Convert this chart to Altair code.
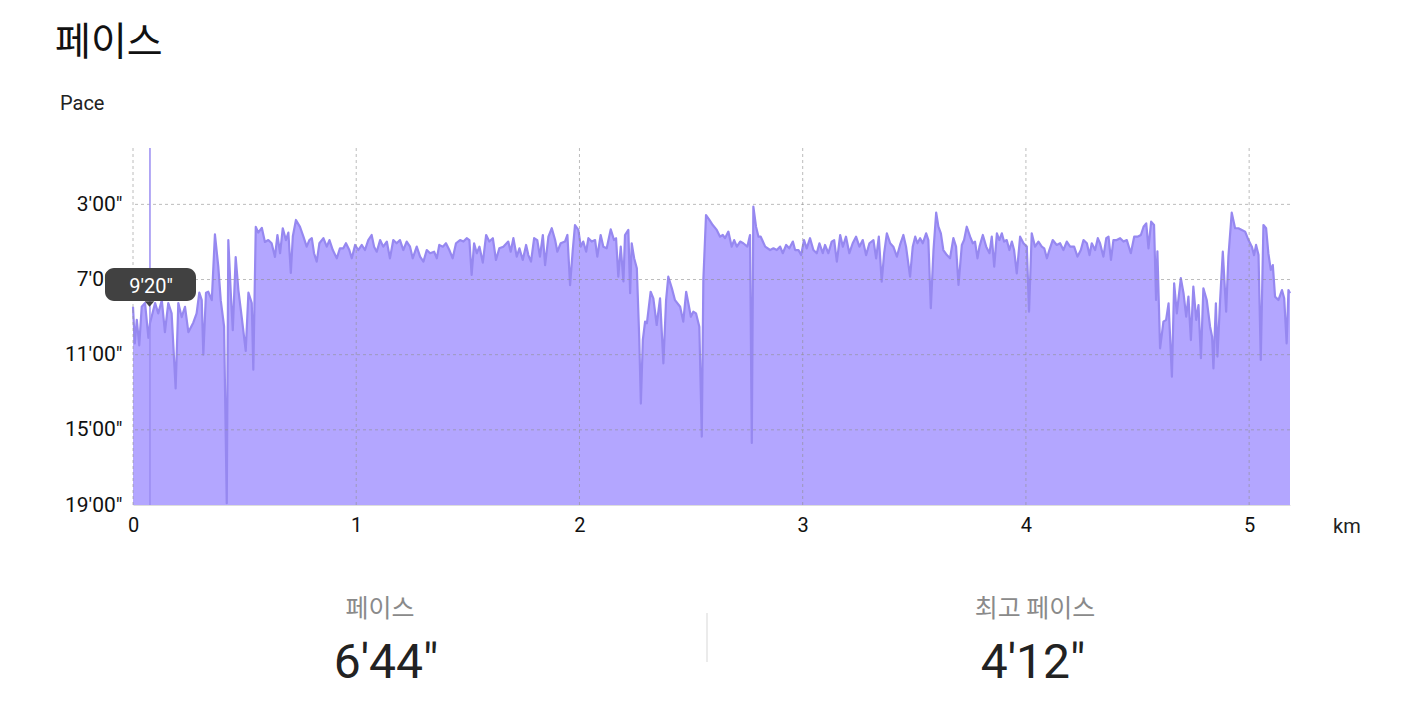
import altair as alt
import pandas as pd

# ---- data ----
distance_km = [
    0.000, 0.008, 0.017, 0.028, 0.039, 0.054, 0.069, 0.076, 0.099, 0.113,
    0.129, 0.143, 0.158, 0.173, 0.191, 0.203, 0.218, 0.233, 0.248, 0.270,
    0.285, 0.297, 0.308, 0.315, 0.327, 0.337, 0.353, 0.367, 0.382, 0.393,
    0.408, 0.420, 0.427, 0.438, 0.447, 0.460, 0.472, 0.487, 0.505, 0.517,
    0.532, 0.539, 0.550, 0.561, 0.577, 0.591, 0.606, 0.621, 0.636, 0.647,
    0.659, 0.671, 0.685, 0.696, 0.707, 0.716, 0.730, 0.748, 0.763, 0.778,
    0.790, 0.801, 0.811, 0.823, 0.835, 0.853, 0.868, 0.880, 0.895, 0.913,
    0.927, 0.942, 0.954, 0.969, 0.980, 0.995, 1.009, 1.025, 1.039, 1.054,
    1.069, 1.080, 1.092, 1.107, 1.121, 1.137, 1.151, 1.166, 1.181, 1.196,
    1.211, 1.226, 1.241, 1.253, 1.271, 1.286, 1.301, 1.316, 1.331, 1.349,
    1.361, 1.372, 1.388, 1.402, 1.417, 1.432, 1.447, 1.465, 1.480, 1.495,
    1.507, 1.517, 1.528, 1.540, 1.552, 1.567, 1.582, 1.596, 1.612, 1.626,
    1.641, 1.659, 1.681, 1.692, 1.704, 1.719, 1.731, 1.746, 1.761, 1.771,
    1.783, 1.797, 1.811, 1.823, 1.836, 1.846, 1.861, 1.876, 1.891, 1.901,
    1.916, 1.935, 1.946, 1.958, 1.970, 1.980, 1.995, 2.006, 2.017, 2.030,
    2.040, 2.055, 2.070, 2.080, 2.095, 2.107, 2.122, 2.140, 2.155, 2.164,
    2.174, 2.185, 2.197, 2.204, 2.219, 2.227, 2.234, 2.245, 2.257, 2.268,
    2.275, 2.284, 2.294, 2.302, 2.319, 2.331, 2.346, 2.361, 2.376, 2.388,
    2.398, 2.414, 2.428, 2.451, 2.465, 2.478, 2.488, 2.499, 2.510, 2.522,
    2.537, 2.548, 2.555, 2.567, 2.582, 2.597, 2.615, 2.630, 2.642, 2.652,
    2.667, 2.682, 2.693, 2.705, 2.720, 2.734, 2.752, 2.764, 2.772, 2.779,
    2.791, 2.802, 2.812, 2.832, 2.854, 2.869, 2.884, 2.899, 2.911, 2.926,
    2.940, 2.956, 2.966, 2.981, 2.993, 3.006, 3.018, 3.033, 3.048, 3.063,
    3.075, 3.090, 3.100, 3.115, 3.130, 3.141, 3.153, 3.168, 3.180, 3.194,
    3.209, 3.224, 3.239, 3.254, 3.269, 3.284, 3.299, 3.317, 3.329, 3.341,
    3.354, 3.365, 3.377, 3.392, 3.406, 3.422, 3.436, 3.451, 3.463, 3.481,
    3.493, 3.504, 3.514, 3.526, 3.538, 3.553, 3.563, 3.574, 3.586, 3.598,
    3.608, 3.619, 3.630, 3.646, 3.660, 3.675, 3.687, 3.698, 3.713, 3.723,
    3.735, 3.750, 3.762, 3.772, 3.783, 3.792, 3.807, 3.822, 3.837, 3.847,
    3.858, 3.870, 3.881, 3.892, 3.902, 3.914, 3.926, 3.937, 3.947, 3.959,
    3.974, 3.989, 4.004, 4.014, 4.026, 4.041, 4.056, 4.071, 4.082, 4.094,
    4.105, 4.120, 4.138, 4.153, 4.168, 4.183, 4.198, 4.216, 4.231, 4.246,
    4.258, 4.273, 4.285, 4.295, 4.310, 4.322, 4.332, 4.347, 4.360, 4.370,
    4.381, 4.392, 4.407, 4.422, 4.437, 4.452, 4.470, 4.485, 4.500, 4.515,
    4.527, 4.539, 4.549, 4.561, 4.574, 4.583, 4.589, 4.601, 4.616, 4.628,
    4.639, 4.654, 4.664, 4.676, 4.694, 4.706, 4.718, 4.728, 4.739, 4.750,
    4.763, 4.773, 4.784, 4.795, 4.810, 4.825, 4.834, 4.840, 4.851, 4.858,
    4.870, 4.882, 4.897, 4.907, 4.922, 4.937, 4.952, 4.967, 4.982, 4.997,
    5.012, 5.022, 5.031, 5.042, 5.052, 5.064, 5.076, 5.086, 5.097, 5.106,
    5.116, 5.131, 5.147, 5.157, 5.168, 5.176, 5.183,
]

pace_min = [
    8.45, 10.4, 9.15, 10.5, 8.45, 8.25, 10.1, 9.33, 8.25, 8.8,
    8.1, 9.8, 8.25, 8.8, 12.8, 8.25, 9.0, 8.45, 9.8, 9.3,
    8.8, 7.7, 8.1, 11.0, 7.7, 7.65, 8.1, 4.6, 6.3, 8.1,
    9.5, 18.9, 4.9, 7.7, 9.7, 5.8, 7.55, 9.0, 10.8, 7.7,
    8.25, 11.8, 4.2, 4.5, 4.25, 5.0, 4.9, 5.07, 5.8, 4.63,
    5.6, 4.27, 4.9, 4.5, 6.65, 4.7, 3.83, 4.2, 4.7, 5.25,
    4.9, 4.8, 5.6, 6.05, 5.07, 4.8, 5.25, 4.9, 5.43, 5.87,
    5.34, 5.34, 5.07, 5.43, 5.87, 5.16, 5.43, 5.16, 5.43, 4.9,
    4.63, 5.25, 5.52, 4.9, 5.25, 4.98, 5.87, 4.9, 5.07, 4.9,
    5.43, 4.98, 5.25, 5.87, 5.25, 5.78, 6.05, 5.43, 5.6, 5.52,
    5.87, 5.16, 5.25, 5.07, 5.43, 5.87, 5.07, 4.9, 4.98, 4.8,
    4.9, 6.76, 5.07, 5.6, 5.25, 6.1, 4.63, 4.98, 4.8, 5.96,
    5.34, 5.25, 4.98, 5.52, 4.8, 5.78, 5.34, 5.96, 5.16, 5.7,
    6.05, 4.8, 4.9, 5.78, 4.63, 6.23, 4.72, 4.27, 4.9, 5.52,
    5.07, 4.98, 4.63, 7.3, 5.43, 4.1, 4.36, 5.25, 4.98, 5.52,
    4.8, 4.98, 4.9, 5.78, 4.63, 5.25, 5.34, 4.33, 4.9, 4.8,
    6.85, 5.25, 7.1, 4.63, 4.36, 7.73, 5.07, 5.87, 6.4, 10.2,
    13.6, 10.2, 9.24, 9.33, 7.65, 8.0, 9.42, 8.0, 11.46, 8.1,
    6.85, 7.47, 8.1, 8.45, 9.24, 7.65, 8.27, 8.98, 8.71, 8.8,
    9.51, 15.36, 7.02, 3.57, 3.83, 4.1, 4.36, 4.72, 4.63, 4.8,
    4.45, 5.25, 4.9, 5.25, 4.98, 5.07, 5.25, 4.63, 15.7, 3.12,
    4.19, 4.72, 4.72, 5.25, 5.43, 5.34, 5.43, 5.25, 5.6, 5.16,
    5.34, 4.98, 5.43, 5.43, 5.7, 4.9, 5.34, 4.8, 5.43, 5.6,
    5.07, 5.6, 5.16, 5.6, 4.98, 4.9, 6.05, 4.63, 5.25, 4.72,
    5.6, 5.07, 4.72, 5.25, 4.9, 5.7, 5.07, 4.9, 5.87, 4.72,
    7.11, 5.6, 4.54, 5.07, 5.25, 5.78, 5.16, 4.63, 5.25, 6.85,
    5.25, 4.72, 5.07, 4.8, 5.07, 4.54, 4.9, 8.53, 5.43, 3.44,
    4.19, 4.54, 5.43, 5.7, 5.87, 4.8, 5.25, 7.29, 5.16, 4.9,
    4.19, 4.72, 5.07, 4.98, 5.87, 5.25, 4.63, 5.25, 5.6, 4.72,
    6.32, 4.54, 4.9, 4.54, 4.98, 4.9, 5.43, 4.98, 5.43, 6.67,
    4.72, 5.07, 5.25, 8.71, 4.54, 5.25, 4.98, 5.25, 5.34, 5.87,
    5.43, 4.9, 5.16, 5.07, 5.43, 4.98, 5.25, 5.25, 5.78, 5.43,
    4.9, 5.07, 5.7, 5.07, 5.43, 4.8, 5.07, 5.78, 4.8, 4.72,
    5.96, 4.9, 4.9, 4.8, 4.98, 4.9, 5.6, 4.72, 4.72, 4.63,
    4.19, 4.01, 5.34, 3.92, 4.1, 8.09, 5.5, 10.66, 9.24, 9.15,
    8.27, 12.17, 7.2, 8.8, 6.93, 7.73, 8.98, 7.91, 10.22, 7.38,
    9.15, 8.36, 11.19, 7.47, 8.09, 9.51, 10.04, 11.73, 8.27, 11.1,
    8.09, 5.52, 8.71, 5.78, 3.44, 4.27, 4.27, 4.36, 4.45, 4.9,
    5.25, 5.7, 5.16, 5.7, 11.28, 4.1, 4.27, 5.6, 6.49, 6.23,
    7.91, 8.09, 7.56, 8.0, 10.4, 7.56, 7.73,
]

x_ticks = [0, 1, 2, 3, 4, 5]
y_ticks = [3, 7, 11, 15, 19]

chart_title = "페이스"
y_title = "Pace"
x_unit = "km"
cursor_km = [0.076]
cursor_label = "9'20\""
stat_labels = ["페이스", "최고 페이스"]
stat_values = ["6'44\"", "4'12\""]

# ---- chart ----
W, H = 1157, 357
X_MAX = 5.183
FONT = "Roboto"
KFONT = "Noto Sans CJK KR"

df = pd.DataFrame({"km": distance_km, "pace": pace_min})
one = pd.DataFrame({"k": [0]})

xscale = alt.Scale(domain=[0, X_MAX], nice=False, zero=False)
yscale = alt.Scale(domain=[0, 19], reverse=True, nice=False, zero=False)

area = alt.Chart(df).mark_area(
    color="#b3a6ff",
    opacity=1,
    line={"color": "#9688f0", "strokeWidth": 2.2, "strokeJoin": "round"},
).encode(
    x=alt.X("km:Q", scale=xscale,
            axis=alt.Axis(values=x_ticks, title=None, grid=False, ticks=False,
                          domain=True, domainColor="#dddddd", domainWidth=1,
                          labelFontSize=20, labelFont=FONT, labelColor="#111111",
                          labelPadding=10, labelFlush=False, format="d")),
    y=alt.Y("pace:Q", scale=yscale,
            axis=alt.Axis(values=y_ticks, title=None, grid=False, ticks=False,
                          domain=False, labelFontSize=21, labelFont=FONT,
                          labelColor="#111111", labelPadding=11,
                          labelExpr="datum.value + \"'00\\\"\"")),
    y2=alt.datum(19),
)

vgrid = alt.Chart(pd.DataFrame({"km": x_ticks})).mark_rule(
    color="#8f8f8f", opacity=0.6, strokeDash=[3, 3], strokeWidth=1
).encode(x=alt.X("km:Q", scale=xscale))

hgrid = alt.Chart(pd.DataFrame({"pace": y_ticks[:-1]})).mark_rule(
    color="#8f8f8f", opacity=0.6, strokeDash=[3, 3], strokeWidth=1
).encode(y=alt.Y("pace:Q", scale=yscale))

cursor = alt.Chart(pd.DataFrame({"km": cursor_km})).mark_rule(
    color="#9a8cf2", strokeWidth=1.5
).encode(x=alt.X("km:Q", scale=xscale))

tip_box = alt.Chart(one).mark_rect(color="#414141", cornerRadius=9).encode(
    x=alt.value(-28), x2=alt.value(63), y=alt.value(120), y2=alt.value(153)
)
tip_arrow = alt.Chart(one).mark_point(
    shape="M-1,-0.6L1,-0.6L0,0.6Z", filled=True, color="#414141", opacity=1, size=90
).encode(x=alt.value(16.5), y=alt.value(156))
tip_text = alt.Chart(one).mark_text(
    font=FONT, fontSize=20, color="#ffffff", align="center", baseline="alphabetic"
).encode(x=alt.value(18), y=alt.value(145), text=alt.value(cursor_label))


def label(text, x, y, size, color="#111111", font=FONT, align="left"):
    return alt.Chart(one).mark_text(
        font=font, fontSize=size, color=color, align=align, baseline="alphabetic"
    ).encode(x=alt.value(x), y=alt.value(y), text=alt.value(text))


title_t = label(chart_title, -78, -93, 39, "#111111", KFONT)
ytitle_t = label(y_title, -73, -38, 20, "#222222")
unit_t = label(x_unit, 1200, 385, 20, "#222222")

s1 = label(stat_labels[0], 247, 469, 25, "#8a8a8a", KFONT, "center")
s2 = label(stat_labels[1], 902, 469, 25, "#8a8a8a", KFONT, "center")
v1 = label(stat_values[0], 253, 530, 48, "#222222", FONT, "center")
v2 = label(stat_values[1], 900, 530, 48, "#222222", FONT, "center")
divider = alt.Chart(one).mark_rule(color="#e4e4e4", strokeWidth=1.5).encode(
    x=alt.value(574), y=alt.value(465), y2=alt.value(514)
)

chart = alt.layer(
    area, vgrid, hgrid, cursor, tip_box, tip_arrow, tip_text,
    title_t, ytitle_t, unit_t, s1, s2, v1, v2, divider
).properties(
    width=W, height=H,
    autosize=alt.AutoSizeParams(type="none"),
    padding={"left": 125, "top": 140, "right": 116, "bottom": 198},
    background="#ffffff",
).configure_view(stroke=None)

chart.save("out.html", embed_options={"renderer": "svg", "actions": False})
